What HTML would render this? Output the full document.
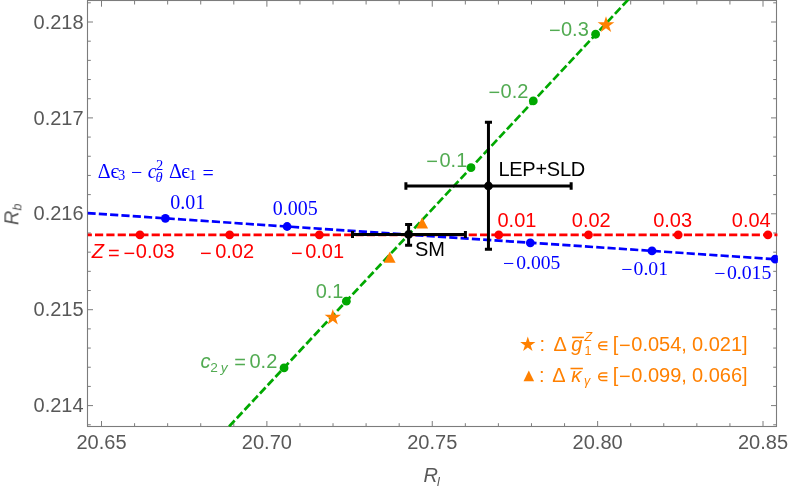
<!DOCTYPE html>
<html><head><meta charset="utf-8"><title>Rb vs Rl</title>
<style>
html,body{margin:0;padding:0;background:#fff;}
svg{display:block;}
.g{opacity:0.999;}
text{font-family:"Liberation Sans",sans-serif;}
.s{font-family:"Liberation Serif",serif;}
.i{font-style:italic;}
</style></head><body>
<svg width="789" height="491" viewBox="0 0 789 491">
<rect x="0" y="0" width="789" height="491" fill="#ffffff"/>
<defs><clipPath id="cp"><rect x="87.6" y="0" width="690.2" height="426.9"/></clipPath></defs>
<g stroke="#7c7c7c" stroke-width="1" fill="none">
<path d="M101.50 426.5 v-5.5"/><path d="M101.50 0.5 v6.2"/>
<path d="M134.58 426.5 v-3.3"/><path d="M134.58 0.5 v4.0"/>
<path d="M167.65 426.5 v-3.3"/><path d="M167.65 0.5 v4.0"/>
<path d="M200.73 426.5 v-3.3"/><path d="M200.73 0.5 v4.0"/>
<path d="M233.80 426.5 v-3.3"/><path d="M233.80 0.5 v4.0"/>
<path d="M266.88 426.5 v-5.5"/><path d="M266.88 0.5 v6.2"/>
<path d="M299.95 426.5 v-3.3"/><path d="M299.95 0.5 v4.0"/>
<path d="M333.03 426.5 v-3.3"/><path d="M333.03 0.5 v4.0"/>
<path d="M366.10 426.5 v-3.3"/><path d="M366.10 0.5 v4.0"/>
<path d="M399.18 426.5 v-3.3"/><path d="M399.18 0.5 v4.0"/>
<path d="M432.25 426.5 v-5.5"/><path d="M432.25 0.5 v6.2"/>
<path d="M465.33 426.5 v-3.3"/><path d="M465.33 0.5 v4.0"/>
<path d="M498.40 426.5 v-3.3"/><path d="M498.40 0.5 v4.0"/>
<path d="M531.48 426.5 v-3.3"/><path d="M531.48 0.5 v4.0"/>
<path d="M564.55 426.5 v-3.3"/><path d="M564.55 0.5 v4.0"/>
<path d="M597.63 426.5 v-5.5"/><path d="M597.63 0.5 v6.2"/>
<path d="M630.70 426.5 v-3.3"/><path d="M630.70 0.5 v4.0"/>
<path d="M663.78 426.5 v-3.3"/><path d="M663.78 0.5 v4.0"/>
<path d="M696.85 426.5 v-3.3"/><path d="M696.85 0.5 v4.0"/>
<path d="M729.93 426.5 v-3.3"/><path d="M729.93 0.5 v4.0"/>
<path d="M763.00 426.5 v-5.5"/><path d="M763.00 0.5 v6.2"/>
<path d="M87.5 424.78 h3.3"/><path d="M776.5 424.78 h-3.3"/>
<path d="M87.5 405.60 h5.5"/><path d="M776.5 405.60 h-5.5"/>
<path d="M87.5 386.42 h3.3"/><path d="M776.5 386.42 h-3.3"/>
<path d="M87.5 367.24 h3.3"/><path d="M776.5 367.24 h-3.3"/>
<path d="M87.5 348.06 h3.3"/><path d="M776.5 348.06 h-3.3"/>
<path d="M87.5 328.88 h3.3"/><path d="M776.5 328.88 h-3.3"/>
<path d="M87.5 309.70 h5.5"/><path d="M776.5 309.70 h-5.5"/>
<path d="M87.5 290.52 h3.3"/><path d="M776.5 290.52 h-3.3"/>
<path d="M87.5 271.34 h3.3"/><path d="M776.5 271.34 h-3.3"/>
<path d="M87.5 252.16 h3.3"/><path d="M776.5 252.16 h-3.3"/>
<path d="M87.5 232.98 h3.3"/><path d="M776.5 232.98 h-3.3"/>
<path d="M87.5 213.80 h5.5"/><path d="M776.5 213.80 h-5.5"/>
<path d="M87.5 194.62 h3.3"/><path d="M776.5 194.62 h-3.3"/>
<path d="M87.5 175.44 h3.3"/><path d="M776.5 175.44 h-3.3"/>
<path d="M87.5 156.26 h3.3"/><path d="M776.5 156.26 h-3.3"/>
<path d="M87.5 137.08 h3.3"/><path d="M776.5 137.08 h-3.3"/>
<path d="M87.5 117.90 h5.5"/><path d="M776.5 117.90 h-5.5"/>
<path d="M87.5 98.72 h3.3"/><path d="M776.5 98.72 h-3.3"/>
<path d="M87.5 79.54 h3.3"/><path d="M776.5 79.54 h-3.3"/>
<path d="M87.5 60.36 h3.3"/><path d="M776.5 60.36 h-3.3"/>
<path d="M87.5 41.18 h3.3"/><path d="M776.5 41.18 h-3.3"/>
<path d="M87.5 22.00 h5.5"/><path d="M776.5 22.00 h-5.5"/>
<path d="M87.5 2.82 h3.3"/><path d="M776.5 2.82 h-3.3"/>
</g>
<rect x="87.5" y="0.5" width="689.0" height="426.0" fill="none" stroke="#7c7c7c" stroke-width="1.1"/>
<g clip-path="url(#cp)">
<path d="M87.5 234.85 H777.5" stroke="#ff0000" stroke-width="2.7" stroke-dasharray="8.17 3.153" stroke-dashoffset="3.8" fill="none"/>
<path d="M87.5 213.15 L778.0 259.35" stroke="#0000ff" stroke-width="2.7" stroke-dasharray="8.17 3.16" fill="none"/>
<path d="M229.10 426.5 L629.75 -2" stroke="#00a800" stroke-width="2.7" stroke-dasharray="8.15 3.15" fill="none"/>
<circle cx="139.93" cy="234.85" r="4.4" fill="#ff0000"/>
<circle cx="229.64" cy="234.85" r="4.4" fill="#ff0000"/>
<circle cx="319.35" cy="234.85" r="4.4" fill="#ff0000"/>
<circle cx="498.77" cy="234.85" r="4.4" fill="#ff0000"/>
<circle cx="588.48" cy="234.85" r="4.4" fill="#ff0000"/>
<circle cx="678.19" cy="234.85" r="4.4" fill="#ff0000"/>
<circle cx="767.90" cy="234.85" r="4.4" fill="#ff0000"/>
<circle cx="165.4" cy="218.36" r="4.4" fill="#0000ff"/>
<circle cx="287.1" cy="226.51" r="4.4" fill="#0000ff"/>
<circle cx="530.3" cy="242.78" r="4.4" fill="#0000ff"/>
<circle cx="652" cy="250.92" r="4.4" fill="#0000ff"/>
<circle cx="775.2" cy="259.16" r="4.4" fill="#0000ff"/>
<circle cx="284.05" cy="367.93" r="4.4" fill="#00a800"/>
<circle cx="346.36" cy="301.19" r="4.4" fill="#00a800"/>
<circle cx="470.98" cy="167.71" r="4.4" fill="#00a800"/>
<circle cx="533.29" cy="100.97" r="4.4" fill="#00a800"/>
<circle cx="595.60" cy="34.23" r="4.4" fill="#00a800"/>
<g stroke="#000" stroke-width="3.0" fill="none"><path d="M352.5 234.5 H465.4 M408.6 224.4 V245.2 M352.5 231.0 v7.0 M465.4 231.0 v7.0 M405.1 224.4 h7.0 M405.1 245.2 h7.0"/></g><circle cx="408.6" cy="234.5" r="4.4" fill="#000"/>
<g stroke="#000" stroke-width="3.0" fill="none"><path d="M405.9 186.0 H571.15 M488.45 122.2 V249.2 M405.9 182.3 v7.4 M571.15 182.3 v7.4 M484.9 122.2 h7.1 M484.9 249.2 h7.1"/></g><circle cx="488.45" cy="186.0" r="4.4" fill="#000"/>
<polygon points="606.00,16.20 607.98,22.28 614.37,22.28 609.20,26.04 611.17,32.12 606.00,28.36 600.83,32.12 602.80,26.04 597.63,22.28 604.02,22.28" fill="#ff8000"/>
<polygon points="332.80,308.90 334.73,314.84 340.98,314.84 335.92,318.52 337.85,324.46 332.80,320.79 327.75,324.46 329.68,318.52 324.62,314.84 330.87,314.84" fill="#ff8000"/>
<polygon points="416.30,228.60 428.10,228.60 422.20,217.60" fill="#ff8000"/>
<polygon points="383.80,262.80 395.60,262.80 389.70,251.80" fill="#ff8000"/>
</g>
<g class="g" fill="#585858" font-size="20">
<text x="83.6" y="28.60" text-anchor="end">0.218</text>
<text x="83.6" y="124.50" text-anchor="end">0.217</text>
<text x="83.6" y="220.40" text-anchor="end">0.216</text>
<text x="83.6" y="316.30" text-anchor="end">0.215</text>
<text x="83.6" y="412.20" text-anchor="end">0.214</text>
<text x="101.50" y="449.2" text-anchor="middle">20.65</text>
<text x="266.88" y="449.2" text-anchor="middle">20.70</text>
<text x="432.25" y="449.2" text-anchor="middle">20.75</text>
<text x="597.63" y="449.2" text-anchor="middle">20.80</text>
<text x="763.00" y="449.2" text-anchor="middle">20.85</text>
<text x="423.6" y="482" class="i">R</text><text x="436.9" y="486.2" class="i" font-size="12.5">l</text>
<text transform="translate(18.4 225.1) rotate(-90)" class="i">R<tspan font-size="12.5" dy="3.2">b</tspan></text>
</g>
<g class="g" fill="#ff0000" font-size="20">
<text x="91.8" y="258.45" class="i">Z</text><text x="108.0" y="259.5">=</text><text x="123.4" y="259.5">−</text><text x="135.8" y="258.45">0.03</text>
<text x="200.0" y="259.5">−</text><text x="215.2" y="258.45">0.02</text>
<text x="291.0" y="259.5">−</text><text x="305.2" y="258.45">0.01</text>
<text x="497.5" y="227.4">0.01</text>
<text x="571.8" y="227.4">0.02</text>
<text x="653.2" y="227.4">0.03</text>
<text x="731.8" y="227.4">0.04</text>
</g>
<g class="g s" fill="#0000ff" font-size="20">
<text x="97.8" y="178.0" class="s">Δ</text>
<text x="110.6" y="178.0" class="s">є</text>
<text x="118.0" y="180.2" class="s" font-size="14.5">3</text>
<text x="131.0" y="179.2" class="s">−</text>
<text x="147.7" y="178.0" class="s i">c</text>
<text x="155.9" y="170.3" class="s" font-size="14.5">2</text>
<text x="155.6" y="182.1" class="s i" font-size="14.5">θ</text>
<text x="168.9" y="178.0" class="s">Δ</text>
<text x="181.2" y="178.0" class="s">є</text>
<text x="189.0" y="180.2" class="s" font-size="14.5">1</text>
<text x="202.4" y="179.9" class="s">=</text>
<text x="170.2" y="208.8" class="s">0.01</text>
<text x="272.8" y="214.5" class="s">0.005</text>
<text x="503.1" y="269.8" class="s">−</text>
<text x="516.2" y="268.9" class="s" font-size="19.6">0.005</text>
<text x="621.3" y="276.3" class="s">−</text>
<text x="633.6" y="275.4" class="s" font-size="19.7">0.01</text>
<text x="714.3" y="279.7" class="s">−</text>
<text x="726.9" y="278.8" class="s" font-size="19.8">0.015</text>
</g>
<g class="g" fill="#52ab52" font-size="20">
<text x="549" y="36.75">−</text><text x="561.0" y="35.7">0.3</text>
<text x="488.5" y="98.75">−</text><text x="500.6" y="97.7">0.2</text>
<text x="426.2" y="167.95">−</text><text x="439.5" y="166.9">0.1</text>
<text x="315.7" y="298">0.1</text>
<text x="200.6" y="368.2" class="i">c</text><text x="210.3" y="372.09999999999997" font-size="13.7">2</text><text x="220.8" y="372.09999999999997" font-size="13.7" class="i">y</text><text x="234.3" y="369.4">=</text><text x="249.5" y="368.2">0.2</text>
</g>
<g class="g" fill="#000" font-size="20">
<text x="498.4" y="176.1" letter-spacing="-0.25">LEP+SLD</text>
<text x="415.0" y="256.3">SM</text>
</g>
<g class="g" fill="#ff8000" font-size="20">
<polygon points="527.80,336.50 529.60,342.03 535.41,342.03 530.71,345.44 532.50,350.97 527.80,347.56 523.10,350.97 524.89,345.44 520.19,342.03 526.00,342.03" fill="#ff8000"/>
<text x="539.5" y="350.8">:</text>
<text x="553.5" y="350.8">Δ</text>
<text x="571.2" y="350.8" class="i">g</text>
<path d="M572.1 337.4 h11.8" stroke="#ff8000" stroke-width="1.55"/>
<text x="584.5" y="340.8" class="i" font-size="12.5">Z</text>
<text x="584.6" y="355.2" font-size="12.5">1</text>
<path d="M607.4 342.00 H602.5 A3.8 3.8 0 0 0 602.5 349.60 H607.4 M598.7 345.80 H607.4" fill="none" stroke="#ff8000" stroke-width="1.45"/>
<text x="612.8" y="350.8">[</text><text x="618.9" y="351.85">−</text><text x="631.3" y="350.8">0.054,</text><text x="692.0" y="350.8">0.021]</text>
<polygon points="523.50,381.20 534.10,381.20 528.80,370.40" fill="#ff8000"/>
<text x="539" y="381.7">:</text>
<text x="552.3" y="381.7">Δ</text>
<text x="571.2" y="381.7" class="i">κ</text>
<path d="M570.5 368.5 h12.4" stroke="#ff8000" stroke-width="1.55"/>
<text x="584" y="384.9" class="i" font-size="12.5">γ</text>
<path d="M607.4 372.90 H602.5 A3.8 3.8 0 0 0 602.5 380.50 H607.4 M598.7 376.70 H607.4" fill="none" stroke="#ff8000" stroke-width="1.45"/>
<text x="612.8" y="381.7">[</text><text x="618.9" y="382.75">−</text><text x="631.3" y="381.7">0.099,</text><text x="692.0" y="381.7">0.066]</text>
</g>
</svg>
</body></html>
